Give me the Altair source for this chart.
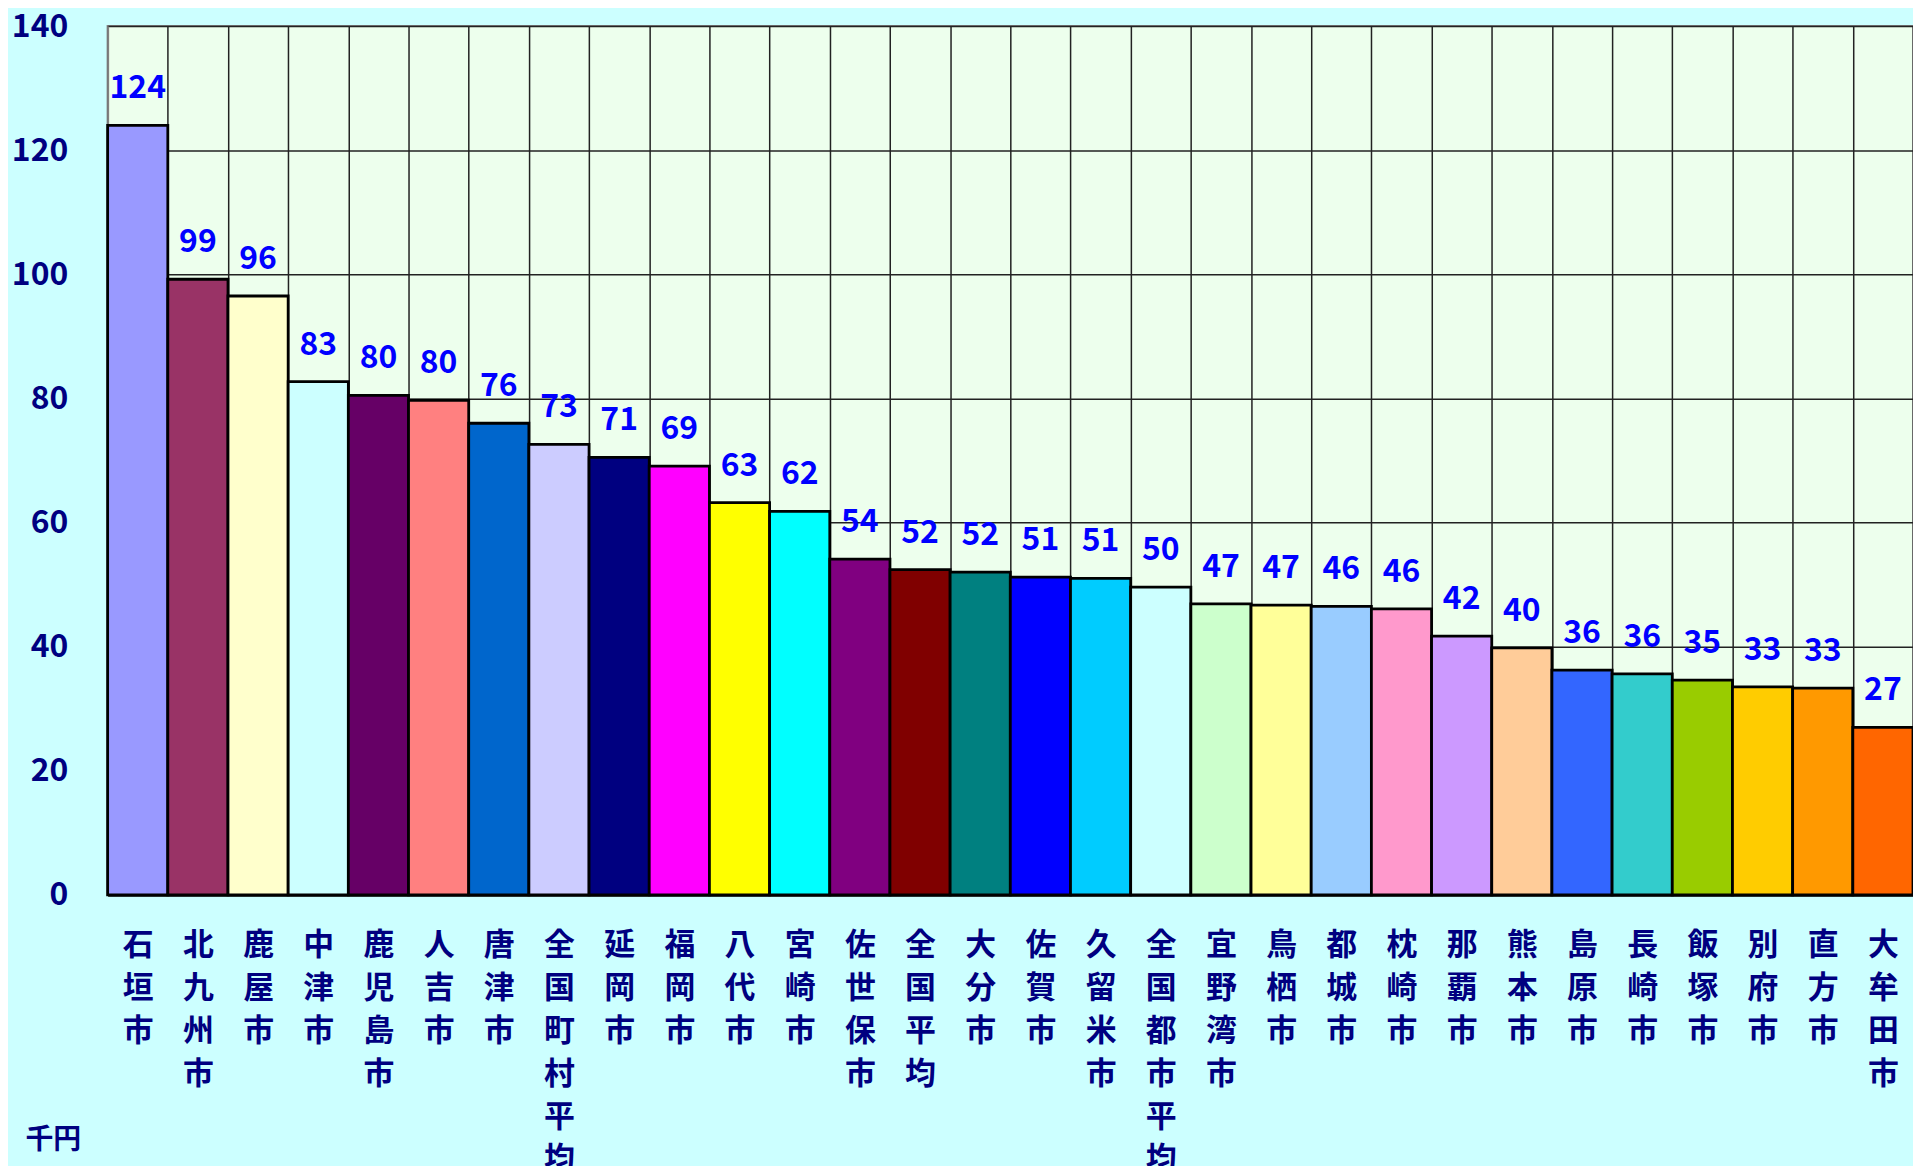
import altair as alt
import pandas as pd

cities = ["石垣市", "北九州市", "鹿屋市", "中津市", "鹿児島市", "人吉市", "唐津市", "全国町村平均",
          "延岡市", "福岡市", "八代市", "宮崎市", "佐世保市", "全国平均", "大分市", "佐賀市",
          "久留米市", "全国都市平均", "宜野湾市", "鳥栖市", "都城市", "枕崎市", "那覇市", "熊本市",
          "島原市", "長崎市", "飯塚市", "別府市", "直方市", "大牟田市"]
values = [124.0, 99.2, 96.5, 82.7, 80.5, 79.7, 76.0, 72.6,
          70.5, 69.1, 63.2, 61.8, 54.1, 52.4, 52.0, 51.2,
          51.0, 49.6, 46.9, 46.7, 46.5, 46.1, 41.7, 39.8,
          36.2, 35.6, 34.6, 33.5, 33.3, 27.0]
labels = ["124", "99", "96", "83", "80", "80", "76", "73",
          "71", "69", "63", "62", "54", "52", "52", "51",
          "51", "50", "47", "47", "46", "46", "42", "40",
          "36", "36", "35", "33", "33", "27"]
colors = ["#9999FF", "#993366", "#FFFFCC", "#CCFFFF", "#660066", "#FF8080", "#0066CC", "#CCCCFF",
          "#000080", "#FF00FF", "#FFFF00", "#00FFFF", "#800080", "#800000", "#008080", "#0000FF",
          "#00CCFF", "#CCFFFF", "#CCFFCC", "#FFFF99", "#99CCFF", "#FF99CC", "#CC99FF", "#FFCC99",
          "#3366FF", "#33CCCC", "#99CC00", "#FFCC00", "#FF9900", "#FF6600"]
y_ticks = [0, 20, 40, 60, 80, 100, 120, 140]

df = pd.DataFrame({"city": cities, "value": values, "label": labels, "color": colors})

FONT = "Noto Sans CJK JP"
NAVY = "#000080"

x_enc = alt.X("city:N", sort=cities,
              scale=alt.Scale(paddingInner=0, paddingOuter=0),
              axis=alt.Axis(title=None, labelAngle=0, labelExpr="split(datum.label, '')",
                            labelLineHeight=43, labelFontSize=31, labelFont=FONT,
                            labelFontWeight="bold", labelColor=NAVY, labelPadding=36,
                            labelBaseline="top", ticks=False, domainColor="#000000",
                            domainWidth=3, grid=True, tickBand="extent",
                            gridColor="#222222", gridWidth=1.5, labelLimit=0))
y_enc = alt.Y("value:Q", scale=alt.Scale(domain=[0, 140], nice=False),
              axis=alt.Axis(values=y_ticks, labelFontSize=32, labelFont=FONT,
                            labelFontWeight="bold", labelColor=NAVY, labelPadding=40,
                            ticks=False, domainColor="#808080", domainWidth=2,
                            gridColor="#222222", gridWidth=1.5,
                            title="千円", titleAngle=0, titleX=-83, titleY=1119,
                            titleAlign="left", titleBaseline="middle", titleFontSize=28,
                            titleColor=NAVY, titleFont=FONT, titleFontWeight="bold"))

bars = alt.Chart(df).mark_bar(stroke="#000000", strokeWidth=2.8).encode(
    x=x_enc, y=y_enc, color=alt.Color("color:N", scale=None))

text = alt.Chart(df).mark_text(dy=-20, baseline="bottom", fontSize=32, fontWeight="bold",
                               color="#0000FF", font=FONT).encode(
    x=alt.X("city:N", sort=cities), y="value:Q", text="label:N")

chart = (bars + text).properties(
    width=1812, height=872,
    autosize=alt.AutoSizeParams(type="none"),
    padding={"left": 100, "top": 16, "right": 0, "bottom": 270},
    background="#CCFFFF",
).configure_view(fill="#EDFFED", stroke="#808080", strokeWidth=2)

chart.save("out.html", embed_options={"renderer": "svg", "actions": False})
